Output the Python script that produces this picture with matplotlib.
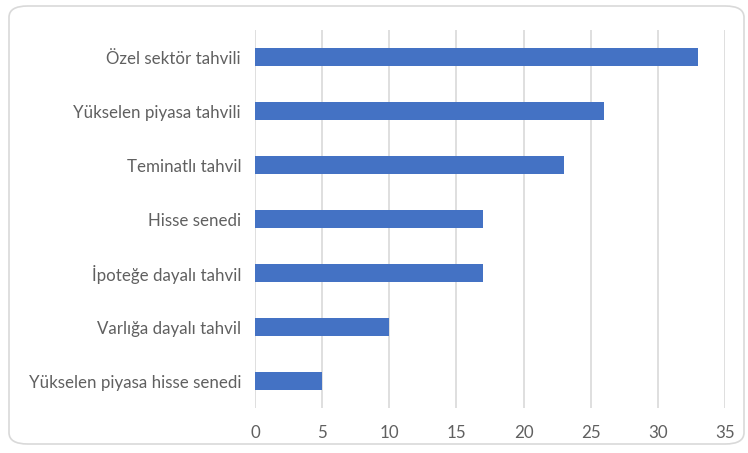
import matplotlib.pyplot as plt
from matplotlib.patches import FancyBboxPatch
import numpy as np

# 数据
labels = ['Özel sektör tahvili', 'Yükselen piyasa tahvili', 'Teminatlı tahvil',
          'Hisse senedi', 'İpoteğe dayalı tahvil', 'Varlığa dayalı tahvil',
          'Yükselen piyasa hisse senedi']
values = [33, 26, 23, 17, 17, 10, 5]

plt.rcParams['font.family'] = ['Lato', 'DejaVu Sans']

fig = plt.figure(figsize=(7.48, 4.53), dpi=100)
W, H = 748, 453

# 外框（圆角）
frame = FancyBboxPatch((9 / W, 9 / H), 735 / W, 438 / H,
                       boxstyle='round,pad=0,rounding_size=0.025',
                       transform=fig.transFigure, facecolor='none',
                       edgecolor='#d9d9d9', linewidth=1.2, zorder=-1)
fig.patches.append(frame)

ax = fig.add_axes([255 / W, 1 - 408 / H, 470 / W, 378 / H])
ax.set_facecolor('none')

y = np.arange(len(labels))
ax.barh(y, values, height=0.35, color='#4472c4', zorder=3)

ax.set_xlim(0, 35)
ax.set_ylim(len(labels) - 0.5, -0.5)
ax.set_xticks(np.arange(0, 36, 5))
ax.set_yticks(y)
ax.set_yticklabels(labels)

ax.grid(axis='x', color='#d9d9d9', linewidth=1.2, zorder=0)
for s in ax.spines.values():
    s.set_visible(False)
ax.tick_params(axis='both', length=0, colors='#606060', labelsize=12.2)
ax.tick_params(axis='y', pad=10)
ax.tick_params(axis='x', pad=12)

plt.savefig('out.png', dpi=100)
